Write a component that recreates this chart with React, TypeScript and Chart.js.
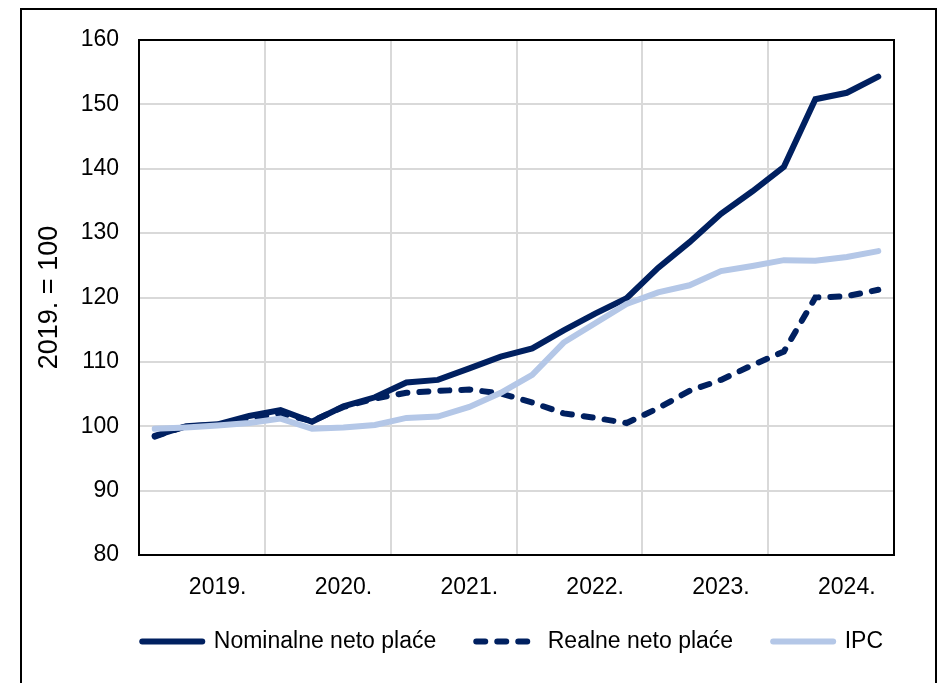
import React, { useEffect, useRef } from "react";
import { Chart, registerables } from "chart.js";

Chart.register(...registerables);

// ---- data ----
const years = ["2019.", "2020.", "2021.", "2022.", "2023.", "2024."];
const quarters = ["Q1", "Q2", "Q3", "Q4"];
const categories = years.flatMap((y) => quarters.map((q) => `${q} ${y}`));

const nominalne = [
  98.5, 100.0, 100.3, 101.6,
  102.5, 100.7, 103.1, 104.5,
  106.8, 107.2, 109.0, 110.8,
  112.1, 114.9, 117.5, 119.9,
  124.6, 128.6, 133.0, 136.5,
  140.3, 150.8, 151.8, 154.3,
];
const realne = [
  98.4, 100.0, 100.2, 101.2,
  102.0, 100.8, 103.0, 104.3,
  105.2, 105.5, 105.7, 105.1,
  103.7, 102.0, 101.3, 100.5,
  102.8, 105.5, 107.2, 109.5,
  111.6, 120.0, 120.2, 121.2,
];
const ipc = [
  99.6, 99.8, 100.1, 100.5,
  101.2, 99.6, 99.8, 100.2,
  101.3, 101.5, 103.0, 105.2,
  108.0, 113.0, 116.0, 119.0,
  120.8, 121.9, 124.1, 124.9,
  125.8, 125.7, 126.3, 127.2,
];
const seriesNames = ["Nominalne neto plaće", "Realne neto plaće", "IPC"];
const yAxisTitle = "2019. = 100";
const yMin = 80;
const yMax = 160;
const yStep = 10;

// ---- styles ----
const NAVY = "#002060";
const LIGHT = "#B4C7E7";
const GRID = "#D9D9D9";
const FONT = "'Liberation Sans', Arial, sans-serif";

const framePlugin = {
  id: "plotFrame",
  afterLayout(chart: any) {
    // let the year labels extend below the (tight) x-axis box without being clipped
    const x = chart.scales.x;
    if (x) x.bottom = x.top + 70;
  },
  beforeDatasetsDraw(chart: any) {
    const { ctx, chartArea: a } = chart;
    ctx.save();
    ctx.strokeStyle = "#000";
    ctx.lineWidth = 2;
    ctx.strokeRect(a.left, a.top, a.right - a.left, a.bottom - a.top);
    ctx.restore();
  },
};

export default function App() {
  const ref = useRef<HTMLCanvasElement>(null);

  useEffect(() => {
    const common = {
      pointRadius: 0,
      pointHoverRadius: 0,
      tension: 0,
      borderWidth: 6,
      borderCapStyle: "round",
      fill: false,
    };
    const chart = new Chart(ref.current as HTMLCanvasElement, {
      type: "line",
      data: {
        labels: categories,
        datasets: [
          { ...common, label: seriesNames[0], data: nominalne, borderColor: NAVY, backgroundColor: NAVY, order: 3 },
          { ...common, label: seriesNames[1], data: realne, borderColor: NAVY, backgroundColor: NAVY, borderDash: [9, 12], order: 2 },
          { ...common, label: seriesNames[2], data: ipc, borderColor: LIGHT, backgroundColor: LIGHT, order: 1 },
        ] as any,
      },
      options: {
        animation: false,
        responsive: true,
        maintainAspectRatio: false,
        layout: { padding: { left: 0, right: 21, top: 40, bottom: 20 } },
        plugins: {
          tooltip: { enabled: false },
          legend: {
            position: "bottom",
            align: "end",
            labels: {
              usePointStyle: true,
              pointStyle: "line",
              pointStyleWidth: 60,
              boxHeight: 23,
              padding: 40,
              color: "#000",
              font: { family: FONT, size: 23 },
              sort: (a: any, b: any) => a.datasetIndex - b.datasetIndex,
              generateLabels: (c: any) =>
                (Chart as any).defaults.plugins.legend.labels.generateLabels(c).map((it: any) => {
                  const ds = c.data.datasets[it.datasetIndex];
                  return {
                    ...it,
                    lineDash: ds.borderDash || [],
                    lineWidth: ds.borderWidth,
                    lineCap: ds.borderCapStyle,
                    strokeStyle: ds.borderColor,
                  };
                }),
            },
          },
        },
        scales: {
          x: {
            type: "category",
            offset: true,
            grid: {
              offset: true,
              drawTicks: false,
              lineWidth: 2,
              color: (c: any) => (typeof c.index === "number" && c.index % 4 === 0 ? GRID : "rgba(0,0,0,0)"),
            },
            border: { display: false },
            ticks: {
              autoSkip: false,
              maxRotation: 0,
              minRotation: 0,
              padding: 19,
              color: "#000",
              font: { family: FONT, size: 23 },
              callback: (_v: any, i: number) => (i % 4 === 2 ? years[Math.floor(i / 4)] : ""),
            },
            afterFit: (s: any) => {
              s.height = 35;
            },
          },
          y: {
            type: "linear",
            min: yMin,
            max: yMax,
            ticks: {
              stepSize: yStep,
              padding: 20,
              color: "#000",
              font: { family: FONT, size: 23 },
            },
            grid: { color: GRID, lineWidth: 2, drawTicks: false },
            border: { display: false },
            title: {
              display: true,
              text: yAxisTitle,
              color: "#000",
              font: { family: FONT, size: 27 },
              padding: { top: 33, bottom: 0 },
            },
            afterFit: (s: any) => {
              s.width = 139;
            },
          },
          yR: {
            type: "linear",
            position: "right",
            display: true,
            grid: { display: false, drawTicks: false },
            border: { display: false },
            ticks: { display: false },
            afterFit: (s: any) => {
              s.width = 29;
            },
          },
        },
      } as any,
      plugins: [framePlugin],
    });
    return () => chart.destroy();
  }, []);

  return (
    <div
      style={{
        position: "absolute",
        left: 0,
        top: 0,
        width: 944,
        height: 683,
        overflow: "hidden",
        background: "#fff",
      }}
    >
      <div
        style={{
          position: "absolute",
          left: 20,
          top: 8,
          width: 917,
          height: 720,
          border: "2px solid #000",
          boxSizing: "border-box",
        }}
      />
      <div style={{ position: "absolute", left: 0, top: 0, width: 944, height: 683 }}>
        <canvas ref={ref} />
      </div>
    </div>
  );
}
